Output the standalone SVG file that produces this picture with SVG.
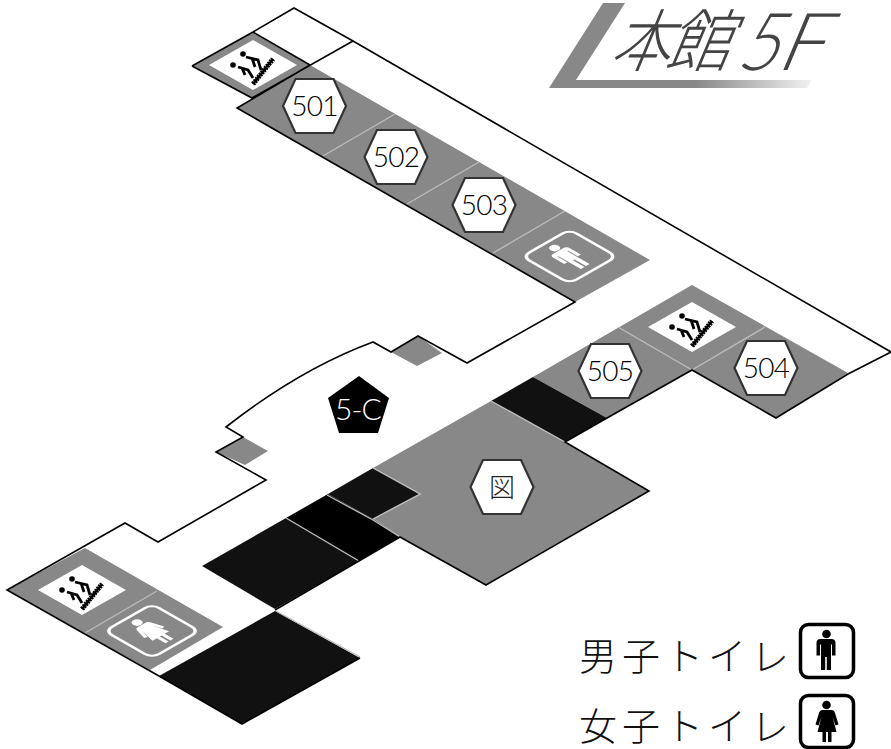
<svg xmlns="http://www.w3.org/2000/svg" width="891" height="749" viewBox="0 0 891 749">
<style>
.g{fill:#888}.k{fill:#111}.b{fill:#000}
.o{fill:none;stroke:#000;stroke-width:1.6;stroke-linejoin:miter}
.d{fill:none;stroke:#bbb;stroke-width:1.4}
.hx{fill:#fff;stroke:#333;stroke-width:2.2}
.t{font-family:"Lato","Liberation Sans",sans-serif;font-weight:300;font-size:28px;letter-spacing:-.8px;text-anchor:middle;fill:#000}
.j{font-family:"Noto Sans CJK JP",sans-serif;font-weight:300}
.lg{font-size:38px;letter-spacing:5px;fill:#111;font-weight:200}
.ti{fill:#444;font-weight:200}
.tl{font-family:"Lato","Liberation Sans",sans-serif;font-weight:300;font-size:80px;fill:#444}
</style>
<defs>
<linearGradient id="fade" gradientUnits="userSpaceOnUse" x1="549" y1="0" x2="812" y2="0">
<stop offset="0" stop-color="#888"/><stop offset="0.56" stop-color="#888"/><stop offset="1" stop-color="#f2f2f2"/>
</linearGradient>
<polygon id="hex" class="hx" points="-31.5,0 -19,-27 19,-27 31.5,0 19,27 -19,27"/>
<g id="stair">
<polygon points="-44,0 0,-25 44,0 0,25" fill="#fff"/>
<path d="M0,19L20,-6" stroke="#000" stroke-width="5" stroke-dasharray="2 0.8" fill="none"/>
<path d="M0,19L20,-6" stroke="#000" stroke-width="2.400" fill="none"/>
<g fill="none" stroke="#000" stroke-width="2.800">
<path d="M-7,-8L5,-5L8,5M-1,-7L2,2"/>
<path d="M-15,2L-5,5L0,13M-11,3L-8,10"/>
</g>
<circle cx="-10" cy="-11" r="2.800"/><circle cx="-20" cy="0" r="2.800"/>
</g>
<path id="man" d="M23.5,16h9q4,0 4,4v12.500h-3.500v-11h-1v25.500h-4.200v-13h-1.600v13h-4.200v-25.500h-1v11h-3.500v-12.500q0,-4 4,-4z"/>
<path id="woman" d="M23.500,16h9q2.500,0 3.500,3l3.500,11.500l-3,1l-3,-9l4,15.500h-5v10h-3.500v-10h-2v10h-3.500v-10h-5l4,-15.500l-3,9l-3,-1l3.500,-11.500q1,-3 3.500,-3z"/>
</defs>

<g id="title">
<polygon points="603,3 625,3 576,80 812,80 807,88 549,88" fill="url(#fade)"/>
<text class="j ti" font-size="68" transform="matrix(.88 0 -.42 1 609 66)">本</text>
<text class="j ti" font-size="68" transform="matrix(.94 0 -.42 1 664 66)">館</text>
<text class="tl" transform="matrix(.88 0 -.42 1 735 70)">5</text>
<text class="tl" transform="matrix(1 0 -.42 1 775 70)">F</text>
</g>

<g id="rooms">
<g id="stair-top"><polygon class="g" points="192,66 253,32 310,65 252,98"/><use href="#stair" x="253" y="65"/></g>
<g id="room-501-503">
<polygon class="g" points="237,108 310,65 650,260 575,302"/>
<path class="d" d="M395,114L323,156M479,162L407,204M565,211L493,253"/>
</g>
<g id="restroom-m" transform="matrix(.875 -.5 .875 .5 520.500 256.500)">
<rect x="1" y="1" width="54" height="54" rx="8" fill="none" stroke="#fff" stroke-width="2.800"/>
<circle cx="28" cy="11" r="4.500" fill="#fff"/><use href="#man" fill="#fff"/>
</g>
<g id="room-504-505">
<polygon class="g" points="533,377 692,285 848,373 776,418 692,370 607,418"/>
<path class="d" d="M618,327L692,370L765,327"/>
<use href="#stair" x="692" y="327"/>
</g>
<polygon id="dark-a" class="k" points="533,377 607,418 565,442 491,401"/>
<g id="library">
<polygon class="g" points="491,401 565,442 649,491 486,585 400,537 373,519 420,494 373,468"/>
<path class="d" d="M491,401L565,442M373,468L420,494L373,519L400,537"/>
</g>
<polygon id="dark-b" class="k" points="373,468 420,494 373,519 328,494"/>
<polygon id="dark-c" class="b" points="328,494 373,519 400,537 359,561 286,518"/>
<polygon id="dark-d" class="k" points="286,518 359,561 275,609 202,566"/>
<path class="d" d="M327,495L373,520L400,537M286,518L359,561M373,468L420,494L373,519"/>
<polygon id="dark-e" class="k" points="159,676 275,611 360,658 242,724"/>
<path class="d" d="M276,611L360,657" stroke-width="1"/>
<g id="stair-left">
<polygon class="g" points="7,590 85,548 223,627 150,670"/>
<path class="d" d="M157,591L85,633"/>
<use href="#stair" x="82" y="590"/>
</g>
<g id="restroom-f" transform="matrix(.875 -.5 .875 .5 103 631)">
<rect x="1" y="1" width="54" height="54" rx="8" fill="none" stroke="#fff" stroke-width="2.800"/>
<circle cx="28" cy="11" r="4.500" fill="#fff"/><use href="#woman" fill="#fff"/>
</g>
<polygon id="stairs-a" class="g" points="391,352 418,336 442,353 417,366"/>
<polygon id="stairs-b" class="g" points="243,437 268,451 245,465 216,452"/>
</g>

<g id="outline">
<path class="o" d="M253,32L294,8L353,41L891,352L848,374M253,32L310,65M192,66L253,32M192,66L252,98L353,41M310,65L237,108L575,302L467,363L418,336L391,352L373,342Q300,369 226,427L243,437L216,452L266,480L158,542L125,523L7,590L159,676M159,676L242,724L360,658M848,374L776,418L692,370L607,418L565,442L649,491L486,585L400,537L275,610"/>
</g>

<g id="n501"><use href="#hex" x="314.500" y="106"/><text class="t" x="314.500" y="116">501</text></g>
<g id="n502"><use href="#hex" x="396" y="157"/><text class="t" x="396" y="167">502</text></g>
<g id="n503"><use href="#hex" x="484" y="205"/><text class="t" x="484" y="215">503</text></g>
<g id="n505"><use href="#hex" x="610" y="371"/><text class="t" x="610" y="381">505</text></g>
<g id="n504"><use href="#hex" x="766" y="368"/><text class="t" x="766" y="378">504</text></g>
<g id="nzu"><use href="#hex" x="502" y="487"/><text class="j" x="502" y="497" font-size="26" text-anchor="middle" fill="#222">図</text></g>
<g id="n5c"><polygon points="359,376 389,398 378,433 339,433 328,398"/><text class="t" x="358" y="420" style="fill:#fff;font-size:30px;letter-spacing:-1px">5-C</text></g>

<g id="legend">
<text class="j lg" x="579" y="670">男子トイレ</text>
<text class="j lg" x="579" y="740">女子トイレ</text>
<g id="legend-m" transform="translate(799,623)">
<rect x="1.500" y="1.500" width="53" height="53" rx="8" fill="#fff" stroke="#000" stroke-width="3.500"/>
<circle cx="27.500" cy="11" r="4.300"/><use href="#man"/>
</g>
<g id="legend-f" transform="translate(799,694)">
<rect x="1.500" y="1.500" width="53" height="52" rx="8" fill="#fff" stroke="#000" stroke-width="3.500"/>
<circle cx="27.500" cy="11" r="4.300"/><use href="#woman"/>
</g>
</g>
</svg>
